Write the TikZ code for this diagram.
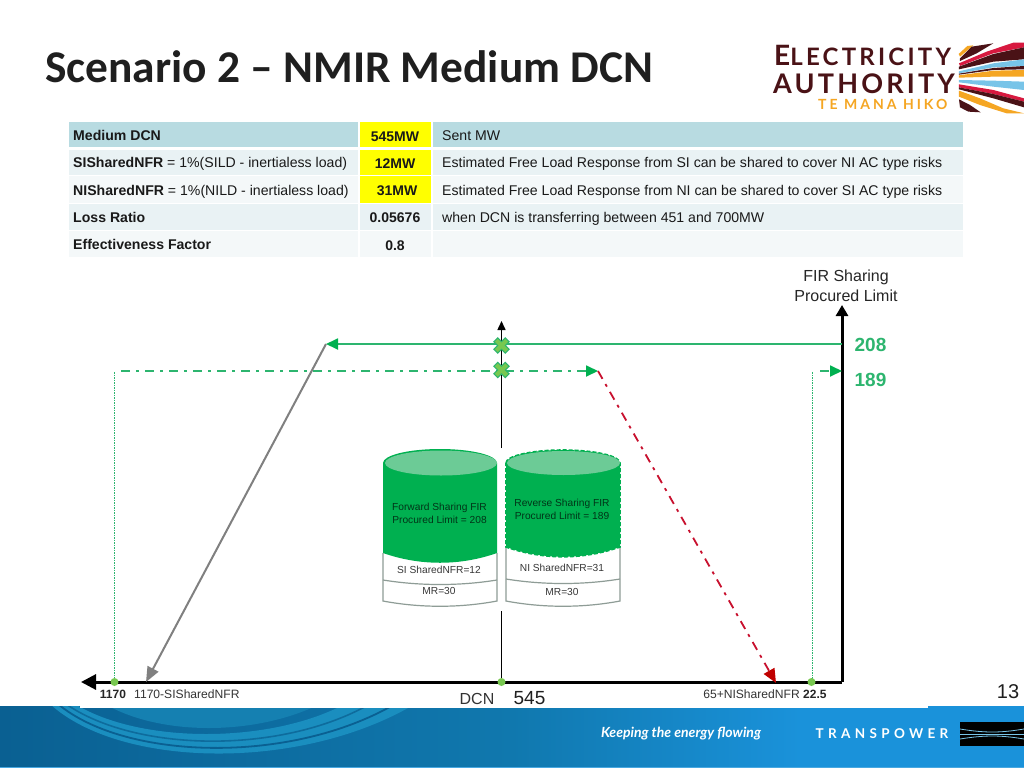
\documentclass[tikz,border=0pt]{standalone}
\usepackage{fontspec}
\setmainfont{Liberation Sans}
\newfontfamily\titlefont{Carlito}
\newfontfamily\logofont{Lato}
\usetikzlibrary{arrows.meta,calc}
\definecolor{hdr}{HTML}{B8DBE1}
\definecolor{rowa}{HTML}{E9F2F4}
\definecolor{rowb}{HTML}{F4F8F9}
\definecolor{yel}{HTML}{FFFF00}
\definecolor{grn}{HTML}{00B050}
\definecolor{grnl}{HTML}{2DB56F}
\definecolor{grntop}{HTML}{6CCB96}
\definecolor{lime}{HTML}{78C850}
\definecolor{redd}{HTML}{C8102E}
\definecolor{reddk}{HTML}{C00000}
\definecolor{cylgray}{HTML}{8E9C96}
\definecolor{maroon}{HTML}{4A1216}
\definecolor{logored}{HTML}{D7193F}
\definecolor{logoblue}{HTML}{78C4E8}
\definecolor{logoorg}{HTML}{F5A623}
\definecolor{ftl}{HTML}{0A6092}
\definecolor{ftm}{HTML}{1078AE}
\definecolor{ftr}{HTML}{1A92DA}
\definecolor{wave}{HTML}{1A8EBF}
\newcommand{\fs}[1]{\fontsize{#1}{#1}\selectfont}
\tikzset{
  x=1pt,y=-1pt,
  cell/.style={fill=#1,draw=none},
  tl/.style={anchor=base west,inner sep=0pt,text=black!90,font=\fs{14.1}},
  tc/.style={anchor=base,inner sep=0pt,text=black!90,font=\fs{14}\bfseries},
  dashdot/.style={dash pattern=on 9pt off 6pt on 3pt off 6pt},
  gline/.style={draw=grnl,line width=1.8pt},
  axis/.style={draw=black,line width=3pt},
  vdot/.style={draw=grnl,line width=0.8pt,dash pattern=on 1.5pt off 1pt},
  dotn/.style={circle,fill=lime,inner sep=0pt,minimum size=8pt},
  small/.style={inner sep=0pt,font=\fs{12.1},text=black!80},
  cyltxt/.style={inner sep=0pt,font=\fs{10.2},text=black!78,align=center},
  stripe/.style={fill=#1,draw=none},
  gtip/.style={-{Triangle[length=12pt,width=11pt,color=grn]}}
}
\begin{document}
\begin{tikzpicture}
\useasboundingbox (0,0) rectangle (1024,768);
\fill[white] (0,0) rectangle (1024,768);
% title
\node[anchor=west,inner sep=0pt,font=\titlefont\bfseries\fs{45.4},text=black!88] (title) at (45,67) {Scenario 2 – NMIR Medium DCN};
% logo
\node[anchor=base west,inner sep=0pt,text=maroon,font=\logofont\bfseries\fs{24}] (l1) at (774,66) {\addfontfeature{LetterSpace=13.5}\fs{28}E\fs{24}LECTRICITY};
\node[anchor=base west,inner sep=0pt,text=maroon,font=\logofont\bfseries\fs{27}] (l2) at (773,93) {\addfontfeature{LetterSpace=11.8}AUTHORITY};
\node[anchor=base west,inner sep=0pt,text=logoorg,font=\logofont\bfseries\fs{14}] (l3) at (818,109) {\addfontfeature{LetterSpace=21.5}TE MANA HIKO};
\begin{scope}[shift={(760,30)},x=0.3333pt,y=-0.3333pt]
\fill[stripe=logoorg] (596,72) -- (622,48) -- (640,46) -- (600,80) -- cycle;
\fill[stripe=maroon] (600,85) -- (635,50) -- (700,40) -- (650,70) -- (600,93) -- cycle;
\fill[stripe=logored] (597,100) -- (680,65) -- (760,38) -- (792,38) -- (792,52) -- (700,70) -- (600,108) -- cycle;
\fill[stripe=maroon] (597,110) -- (700,72) -- (792,52) -- (792,88) -- (700,95) -- (597,118) -- cycle;
\fill[stripe=logoblue] (597,124) -- (700,100) -- (792,88) -- (792,108) -- (700,112) -- (597,130) -- cycle;
\fill[stripe=maroon] (597,131) -- (700,114) -- (792,108) -- (792,118) -- (700,120) -- (597,134) -- cycle;
\fill[stripe=logoorg] (597,136) -- (700,122) -- (792,120) -- (792,140) -- (700,140) -- (597,143) -- cycle;
\fill[stripe=logoblue] (597,150) -- (700,152) -- (792,155) -- (792,180) -- (700,170) -- (597,157) -- cycle;
\fill[stripe=logored] (597,163) -- (700,180) -- (792,205) -- (792,215) -- (700,192) -- (597,172) -- cycle;
\fill[stripe=maroon] (597,172) -- (700,192) -- (792,215) -- (792,232) -- (700,205) -- (597,178) -- cycle;
\fill[stripe=logoorg] (597,182) -- (660,205) -- (730,235) -- (792,250) -- (740,250) -- (660,225) -- (597,200) -- cycle;
\fill[stripe=maroon] (597,208) -- (630,225) -- (662,247) -- (625,245) -- (600,232) -- cycle;
\end{scope}
% table
\foreach \ya/\yb/\c/\d in {122/147/hdr/yel,149.5/175/rowa/yel,176/203/rowb/yel,204/230/rowa/rowa,231/257/rowb/rowb}{
  \fill[cell=\c] (69,\ya) rectangle (358,\yb);
  \fill[cell=\d] (359.5,\ya) rectangle (431,\yb);
  \fill[cell=\c] (432.5,\ya) rectangle (963,\yb);
}
\node[tl] (a1) at (73,140.3) {\bfseries Medium DCN};
\node[tl] (a2) at (73,167.6) {\textbf{SISharedNFR} = 1\%(SILD - inertialess load)};
\node[tl] (a3) at (73,195) {\textbf{NISharedNFR} = 1\%(NILD - inertialess load)};
\node[tl] (a4) at (73,222.3) {\bfseries Loss Ratio};
\node[tl] (a5) at (73,249.3) {\bfseries Effectiveness Factor};
\node[tc] (b1) at (395,141) {545MW};
\node[tc] (b2) at (395,168.3) {12MW};
\node[tc] (b3) at (397,195.5) {31MW};
\node[tc] (b4) at (395,222.7) {0.05676};
\node[tc] (b5) at (395,250) {0.8};
\node[tl] (c1) at (442,140.3) {Sent MW};
\node[tl] (c2) at (442,167.6) {Estimated Free Load Response from SI can be shared to cover NI AC type risks};
\node[tl] (c3) at (442,195) {Estimated Free Load Response from NI can be shared to cover SI AC type risks};
\node[tl] (c4) at (442,222.3) {when DCN is transferring between 451 and 700MW};
% footer
\shade[left color=ftl,right color=ftm] (0,706) rectangle (512,767);
\shade[left color=ftm,right color=ftr] (512,706) rectangle (800,767);
\fill[ftr] (800,706) rectangle (1024,767);
\fill[ftr!80!white] (0,767) rectangle (1024,768);
\begin{scope}
\clip (0,706) rectangle (1024,767);
\fill[wave] (50,704) .. controls (120,768) and (300,772) .. (415,704) -- (345,704) .. controls (270,744) and (140,744) .. (75,704) -- cycle;
\fill[wave!70!ftl] (105,704) .. controls (160,736) and (255,736) .. (320,704) -- cycle;
\draw[ftl,line width=1.8pt] (58,704) .. controls (125,760) and (290,765) .. (395,704);
\draw[ftl!75!wave,line width=1.6pt] (66,704) .. controls (135,752) and (280,755) .. (370,704);
\end{scope}
\fill[white] (80,700) rectangle (928,708);
\node[inner sep=0pt,text=white,font=\logofont\bfseries\itshape\fs{14}] (ft1) at (681,734) {Keeping the energy flowing};
\node[inner sep=0pt,text=white,font=\logofont\bfseries\fs{13.5}] (ft2) at (882,734) {\addfontfeature{LetterSpace=32}TRANSPOWER};
\fill[black] (960,722) rectangle (1024,746);
\draw[logoblue,line width=0.8pt] (960,729) .. controls (985,733) and (1000,733) .. (1024,729);
\draw[logoblue,line width=0.8pt] (960,734) -- (1024,734);
\draw[logoblue,line width=0.8pt] (960,739) .. controls (985,735) and (1000,735) .. (1024,739);
\node[inner sep=0pt,font=\fs{20},text=black!88] (pg) at (1008,692) {13};
% chart anchors
\coordinate (origin) at (842,682);
\coordinate (top) at (842,305);
\coordinate (left) at (81,682);
\coordinate (vtop) at (501.5,321);
\coordinate (vgap1) at (501.5,448);
\coordinate (vgap2) at (501.5,611);
\coordinate (vbot) at (501.5,682);
\coordinate (k1) at (326,344);
\coordinate (k2) at (598,371);
\coordinate (r208) at (842,344);
\coordinate (l189) at (121,371);
\coordinate (r189s) at (820,371);
\coordinate (r189) at (842,371);
\coordinate (g1) at (146,682);
\coordinate (r1) at (776,683);
\coordinate (d1top) at (114.5,372);
\coordinate (d2top) at (812.5,372);
% dotted verticals
\draw[vdot] (d1top) -- (114.5,682);
\draw[vdot] (d2top) -- (812.5,682);
% axes
\draw[draw=black,line width=1.5pt,-{Triangle[length=9pt,width=8pt]}] (vgap1) -- (vtop);
\draw[draw=black,line width=1.5pt] (vgap2) -- (vbot);
\draw[axis,-{Triangle[length=11pt,width=12pt]}] (origin) -- (top);
\draw[axis,-{Triangle[length=15pt,width=15pt]}] (origin) -- (left);
% curves
\draw[gline,gtip] (r208) -- (k1);
\draw[gline,dashdot,gtip] (l189) -- (k2);
\draw[gline,dashdot,gtip] (r189s) -- (r189);
\draw[draw=black!50,line width=2pt,-{Triangle[length=15pt,width=12pt]}] (k1) -- (g1);
\draw[draw=redd,line width=1.8pt,dashdot,-{Triangle[length=14pt,width=12pt,color=reddk]}] (k2) -- (r1);
% crosses
\foreach \n/\yy in {x1/345.5,x2/370}{
  \coordinate (\n) at (501.5,\yy);
  \begin{scope}[shift={(\n)},rotate=45]
  \fill[lime,draw=grnl,line width=1pt] (-2.7,-2.7) -- (-2.7,-8) -- (2.7,-8) -- (2.7,-2.7) -- (8,-2.7) -- (8,2.7) -- (2.7,2.7) -- (2.7,8) -- (-2.7,8) -- (-2.7,2.7) -- (-8,2.7) -- (-8,-2.7) -- cycle;
  \end{scope}
}
% dots
\node[dotn] (p1) at (114.5,682) {};
\node[dotn] (p2) at (501.5,682) {};
\node[dotn] (p3) at (811.5,682) {};
% cylinder 1
\draw[cylgray,line width=1.2pt,fill=white] (383,553) -- (383,601) .. controls (420,608) and (460,608) .. (497,601) -- (497,553);
\draw[cylgray,line width=1.2pt] (383,580) .. controls (420,586) and (460,586) .. (497,580);
\fill[grn] (383,463) arc[start angle=180,end angle=0,x radius=57,y radius=-14] -- (497,553) .. controls (460,566) and (420,566) .. (383,553) -- cycle;
\fill[grntop] (497,463) arc[start angle=0,end angle=360,x radius=56,y radius=12.5];
% cylinder 2
\draw[cylgray,line width=1.2pt,fill=white] (506,547) -- (506,601) .. controls (543,608) and (583,608) .. (620,601) -- (620,547);
\draw[cylgray,line width=1.2pt] (506,579) .. controls (543,585) and (583,585) .. (620,579);
\fill[grn,draw=grn,line width=1.6pt,dash pattern=on 4pt off 2pt] (506,463) arc[start angle=180,end angle=0,x radius=57,y radius=-13] -- (620,547) .. controls (583,560) and (543,560) .. (506,547) -- cycle;
\fill[grntop] (620,463) arc[start angle=0,end angle=360,x radius=56.5,y radius=12];
\node[cyltxt,text=black!70!grn] (f1) at (439.5,513) {Forward Sharing FIR\\[3pt]Procured Limit = 208};
\node[cyltxt,text=black!70!grn] (f2) at (562,509.5) {Reverse Sharing FIR\\[3pt]Procured Limit = 189};
\node[cyltxt] (f3) at (439,570) {SI SharedNFR=12};
\node[cyltxt] (f4) at (562,568) {NI SharedNFR=31};
\node[cyltxt] (f5) at (439,591) {MR=30};
\node[cyltxt] (f6) at (562,592) {MR=30};
% labels
\node[inner sep=0pt,align=center,font=\fs{16},text=black!85] (yl) at (846,285.5) {FIR Sharing\\[4pt]Procured Limit};
\node[inner sep=0pt,font=\fs{19}\bfseries,text=grnl] (v1) at (870.5,344.5) {208};
\node[inner sep=0pt,font=\fs{19}\bfseries,text=grnl] (v2) at (870.5,379.5) {189};
\node[small,font=\fs{12}\bfseries,text=black!85] (t1) at (113,694.5) {1170};
\node[small,anchor=west] (t2) at (134,694.5) {1170-SISharedNFR};
\node[small,anchor=east] (t3) at (800,694.5) {65+NISharedNFR};
\node[small,font=\fs{12}\bfseries,text=black!85,anchor=west] (t4) at (803,694.5) {22.5};
\node[inner sep=0pt,font=\fs{16},text=black!80] (t5) at (477,698.5) {DCN};
\node[inner sep=0pt,font=\fs{19},text=black!88] (t6) at (529.5,698) {545};
\end{tikzpicture}
\end{document}
